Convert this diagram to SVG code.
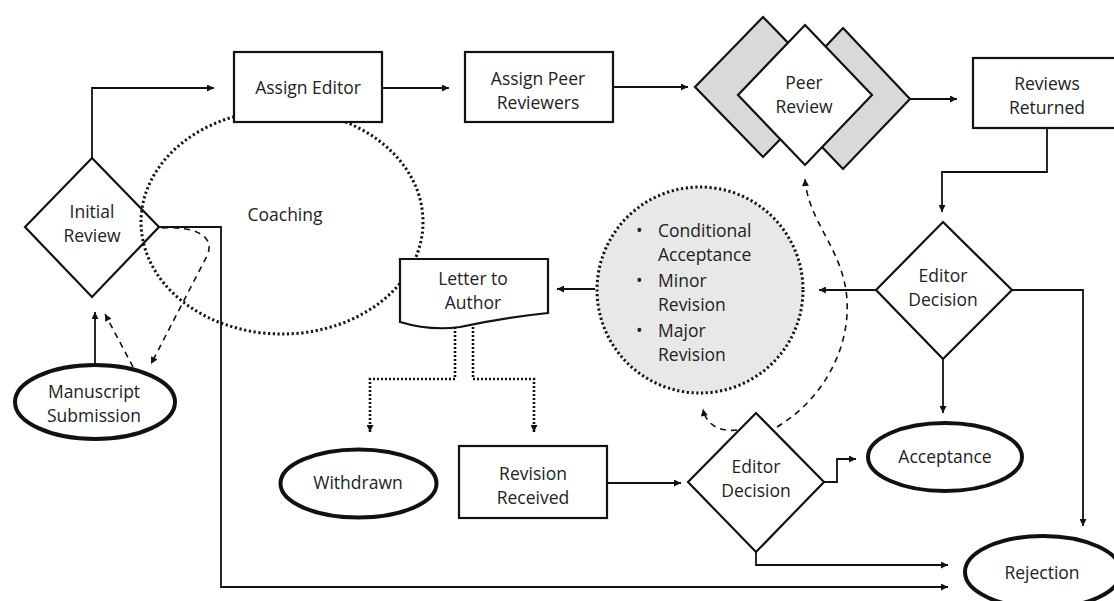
<svg xmlns="http://www.w3.org/2000/svg" width="1114" height="601" viewBox="0 0 1114 601">
<style>
  text { font-family: "Open Sans", "Noto Sans", "Liberation Sans", sans-serif; font-size: 17.5px; fill: #222; text-anchor: middle; }
  .box { fill: #fff; stroke: #111; stroke-width: 2.2; }
  .open { fill: none; stroke: #111; stroke-width: 2.2; }
  .term { fill: #fff; stroke: #111; stroke-width: 4; }
  .back { fill: #d9d9d9; stroke: #111; stroke-width: 2.2; }
  .dotarea { stroke: #111; stroke-width: 3; stroke-dasharray: 2.2 2.6; }
  .conn { fill: none; stroke: #111; stroke-width: 1.8; }
  .dash { fill: none; stroke: #111; stroke-width: 1.6; stroke-dasharray: 6 5; }
  .dot { fill: none; stroke: #111; stroke-width: 2.6; stroke-dasharray: 2 2; }
  .bl { text-anchor: start; }
</style>
<defs>
  <marker id="arr" viewBox="0 0 10 10" refX="10" refY="5" markerWidth="8" markerHeight="7" markerUnits="userSpaceOnUse" orient="auto">
    <path d="M0,0 L10,5 L0,10 Z" fill="#111"/>
  </marker>
</defs>
<rect width="1114" height="601" fill="#fff"/>

<g id="coaching">
  <ellipse cx="282" cy="222" rx="141" ry="112" fill="none" class="dotarea"/>
  <text x="285" y="221">Coaching</text>
</g>

<g id="decision-options">
  <circle cx="700" cy="290" r="103" fill="#e8e8e8" class="dotarea"/>
  <text class="bl" x="636" y="237">•</text>
  <text class="bl" x="658" y="237">Conditional</text>
  <text class="bl" x="658" y="261">Acceptance</text>
  <text class="bl" x="636" y="287">•</text>
  <text class="bl" x="658" y="287">Minor</text>
  <text class="bl" x="658" y="311">Revision</text>
  <text class="bl" x="636" y="337">•</text>
  <text class="bl" x="658" y="337">Major</text>
  <text class="bl" x="658" y="361">Revision</text>
</g>

<g id="connectors">
  <path class="conn" d="M92,158 V88 H214" marker-end="url(#arr)"/>
  <path class="conn" d="M382,88 H449" marker-end="url(#arr)"/>
  <path class="conn" d="M613,87 H688" marker-end="url(#arr)"/>
  <path class="conn" d="M910,99 H957" marker-end="url(#arr)"/>
  <path class="conn" d="M1047,128 V172 H942 V212" marker-end="url(#arr)"/>
  <path class="conn" d="M95,365 V312" marker-end="url(#arr)"/>
  <path class="dash" d="M133,367 L105,314" marker-end="url(#arr)"/>
  <path class="dash" d="M162,228 C195,226 216,236 207,256 L151,364" marker-end="url(#arr)"/>
  <path class="conn" d="M159,227 H221 V587 H948" marker-end="url(#arr)"/>
  <path class="conn" d="M876,290 H819" marker-end="url(#arr)"/>
  <path class="conn" d="M1012,290 H1083 V526" marker-end="url(#arr)"/>
  <path class="conn" d="M943,359 V413" marker-end="url(#arr)"/>
  <path class="conn" d="M595,289 H557" marker-end="url(#arr)"/>
  <path class="dot" d="M455,327 V379 H370 V432" marker-end="url(#arr)"/>
  <path class="dot" d="M473,327 V379 H534 V432" marker-end="url(#arr)"/>
  <path class="conn" d="M607,483 H681" marker-end="url(#arr)"/>
  <path class="conn" d="M824,482 H837 V459 H856" marker-end="url(#arr)"/>
  <path class="conn" d="M756,552 V565 H948" marker-end="url(#arr)"/>
  <path class="dash" d="M777,427 C822,400 850,350 847,300 C844,250 808,222 805,179" marker-end="url(#arr)"/>
  <path class="dash" d="M737,430 C720,432 706,425 703,409" marker-end="url(#arr)"/>
</g>

<g id="initial-review">
  <polygon class="open" points="92,158 159,227 92,297 25,227"/>
  <text x="92" y="218">Initial</text>
  <text x="92" y="242">Review</text>
</g>

<g id="manuscript-submission">
  <ellipse class="term" cx="95" cy="402" rx="80" ry="37"/>
  <text x="94" y="398">Manuscript</text>
  <text x="94" y="422">Submission</text>
</g>

<g id="assign-editor">
  <rect class="box" x="234" y="52" width="148" height="70"/>
  <text x="308" y="94">Assign Editor</text>
</g>

<g id="assign-peer-reviewers">
  <rect class="box" x="465" y="52" width="148" height="70"/>
  <text x="538" y="85">Assign Peer</text>
  <text x="538" y="109">Reviewers</text>
</g>

<g id="peer-review">
  <polygon class="back" points="763,17 831,87 763,157 695,87"/>
  <polygon class="back" points="843,28 910,99 843,169 776,99"/>
  <polygon class="box" points="805,25 872,95 805,165 738,95"/>
  <text x="804" y="89">Peer</text>
  <text x="804" y="113">Review</text>
</g>

<g id="reviews-returned">
  <rect class="box" x="973" y="58" width="148" height="70"/>
  <text x="1047" y="90">Reviews</text>
  <text x="1047" y="114">Returned</text>
</g>

<g id="editor-decision-1">
  <polygon class="box" points="943,222 1012,290 943,359 876,290"/>
  <text x="943" y="282">Editor</text>
  <text x="943" y="306">Decision</text>
</g>

<g id="letter-to-author">
  <path class="box" d="M400,259 H548 V313 Q500,318 460,327 Q430,331 400,322 Z"/>
  <text x="473" y="285">Letter to</text>
  <text x="473" y="309">Author</text>
</g>

<g id="withdrawn">
  <ellipse class="term" cx="358.5" cy="483.5" rx="78" ry="34"/>
  <text x="358" y="489">Withdrawn</text>
</g>

<g id="revision-received">
  <rect class="box" x="459" y="446" width="148" height="72"/>
  <text x="533" y="480">Revision</text>
  <text x="533" y="504">Received</text>
</g>

<g id="editor-decision-2">
  <polygon class="box" points="756,413 824,482 756,552 688,482"/>
  <text x="756" y="473">Editor</text>
  <text x="756" y="497">Decision</text>
</g>

<g id="acceptance">
  <ellipse class="term" cx="945" cy="457" rx="77" ry="34"/>
  <text x="945" y="463">Acceptance</text>
</g>

<g id="rejection">
  <ellipse class="term" cx="1043" cy="572" rx="78" ry="36"/>
  <text x="1042" y="579">Rejection</text>
</g>
</svg>
